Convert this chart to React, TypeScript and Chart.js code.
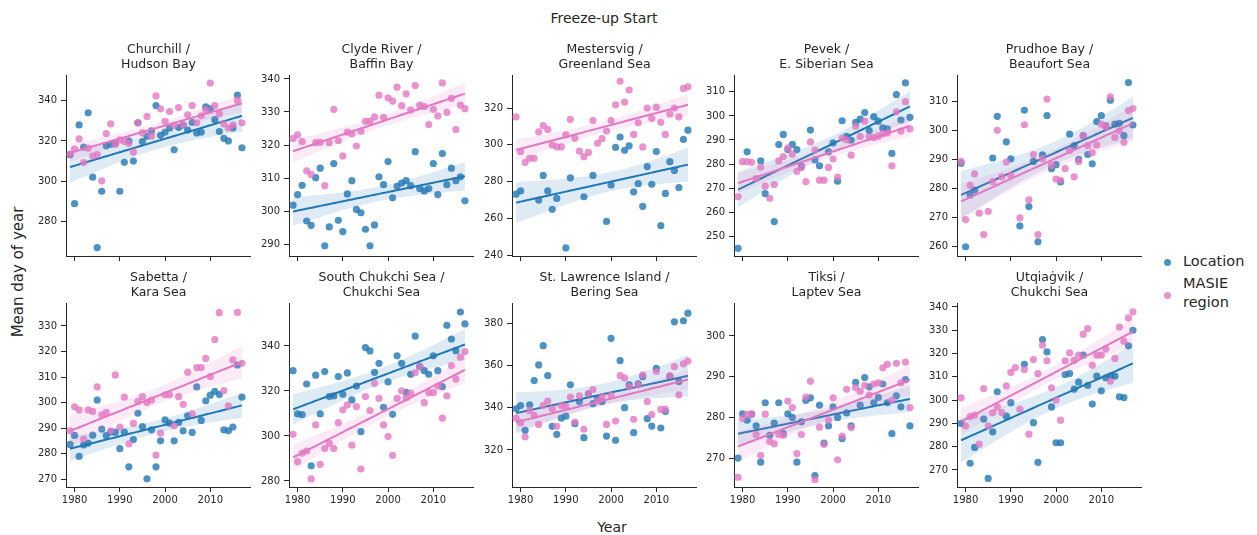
import React, { useEffect, useRef } from "react";
import { Chart, registerables } from "chart.js";

Chart.register(...registerables);

// ---------------- data ----------------
const YEARS = [
  1979, 1980, 1981, 1982, 1983, 1984, 1985, 1986, 1987, 1988,
  1989, 1990, 1991, 1992, 1993, 1994, 1995, 1996, 1997, 1998,
  1999, 2000, 2001, 2002, 2003, 2004, 2005, 2006, 2007, 2008,
  2009, 2010, 2011, 2012, 2013, 2014, 2015, 2016, 2017,
];
const X_TICKS = [1980, 1990, 2000, 2010];

const SUPTITLE = "Freeze-up Start";
const X_LABEL = "Year";
const Y_LABEL = "Mean day of year";
const SERIES_NAMES = ["Location", ["MASIE", "region"]];

const PANEL_TITLES = [
  ["Churchill /", "Hudson Bay"],
  ["Clyde River /", "Baffin Bay"],
  ["Mestersvig /", "Greenland Sea"],
  ["Pevek /", "E. Siberian Sea"],
  ["Prudhoe Bay /", "Beaufort Sea"],
  ["Sabetta /", "Kara Sea"],
  ["South Chukchi Sea /", "Chukchi Sea"],
  ["St. Lawrence Island /", "Bering Sea"],
  ["Tiksi /", "Laptev Sea"],
  ["Utqiaġvik /", "Chukchi Sea"],
];

const CHURCHILL_LOCATION = [313.2, 288.8, 328, 317, 334, 302, 267, 295, 317.6, 318.4, 319, 295, 309.4, 320, 310, 329, 319.7, 322.4, 325, 337.6, 322.8, 324.4, 326.5, 315.6, 326.8, 328, 325.4, 329.3, 324, 324.4, 337, 336, 330.6, 324.7, 321.3, 320, 326.5, 342.8, 316.6];
const CHURCHILL_MASIE = [313.5, 316, 321, 309.3, 316.4, 312.5, 313.2, 300.2, 323.7, 328.5, 318.4, 320.6, 319.7, 318.7, 314.5, 329, 324, 332.2, 322.4, 342.4, 336, 329.8, 334.6, 327.8, 336.6, 328, 333, 337.6, 329, 332.5, 335.5, 348.8, 337.6, 333.5, 328.5, 326.5, 328, 340.3, 329];

const CLYDE_LOCATION = [301.8, 305, 307.8, 297, 295.7, 310.1, 313, 289.5, 295.2, 314.4, 297.2, 293.8, 305.2, 309.2, 300.5, 299.5, 294.5, 289.5, 295.8, 310.4, 308, 315, 304, 307.5, 308.5, 309.2, 307.7, 318, 306.8, 306.1, 306.8, 314.4, 305, 317.4, 308, 313, 309.2, 310.4, 303.1];
const CLYDE_MASIE = [322, 323.1, 321, 312.2, 311.1, 320.7, 320.8, 307.7, 320.7, 330.8, 321.3, 316.7, 323.9, 323.4, 319.7, 324.2, 327.2, 327.2, 328.5, 335.1, 328.4, 334.3, 333.3, 337.5, 331.9, 335.5, 330.6, 338, 332.1, 331.6, 326.2, 330.8, 328.8, 338.8, 329.9, 334.1, 324.7, 332.1, 331];

const MESTERSVIG_LOCATION = [273.2, 275, null, null, null, 270, 283.4, 275, 265, 270.9, null, 244, 282.1, null, null, 271.8, null, 283.4, null, null, 258.4, 278.2, 298.6, 304.3, 297.1, 299.5, 274.5, 278.9, 266.6, 288.2, 278.6, 296.4, 256.1, 273.6, 290.9, 286.1, 276.8, 303, 308];
const MESTERSVIG_MASIE = [315.2, 296.3, 290.5, 292.7, 292.7, 307.1, 310.5, 308.4, 300, 298.9, 298.9, 305.4, 313.9, 303.6, 296.6, 293.6, 295.9, 313.2, 300.9, 303.4, 307.5, 313.2, 321.8, 334.6, 323.2, 329.8, 305.7, 312, 298.9, 320, 314.3, 320.5, 312.3, 305.7, 316.8, 320, 315.2, 330.7, 331.6];

const PEVEK_LOCATION = [245, null, 285.1, null, null, 281.3, 267.7, null, 256.1, 288.1, 292.3, 286, 288.2, 286, 279, null, 294.1, 281.7, 279.3, null, 285.1, 288.8, 272.9, 298, 291.5, 289.9, 297.3, 298.7, 301.4, 293.9, 299.7, 297.8, 295, 294.6, 284.4, 308.9, 298.3, 313.7, 299.4];
const PEVEK_MASIE = [266.4, 281, 281, 280.7, 274, 278.7, 270.8, 265.8, 271.5, 281.3, 283.1, 286.7, 284.1, 277, 278.6, 272.7, 289.2, 285.8, 273.3, 273.3, 278.6, 282.1, 274.6, 290.8, 290.1, 283.7, 295.7, 291.5, 297.8, 291.2, 291, 291.6, 292.6, 292.9, 279.3, 301.7, 293.7, 305.9, 294.6];

const PRUDHOE_LOCATION = [288.7, 259.8, 277.7, 279.4, null, null, null, 290.5, 304.9, null, 296.1, 290.2, null, 267, 307, 273.7, 289.3, 261.5, 291.6, 305.2, 286.8, 288.2, 282.2, null, 298.8, 294.8, 290, 298.2, 291.7, 288.5, 303.1, 305.2, 301.6, 310.5, 302.2, 302.5, 298.2, 316.6, 301.9];
const PRUDHOE_MASIE = [289.3, 269.2, 281, 285, 271.4, 264, 272, 282.3, 300.1, 284, 289.1, 284.5, null, 269.8, 302, 276, 291.7, 264, 290.2, 310.9, 288, 283.2, 282.8, 286.8, 293.1, 284, 289.3, 298.2, 294.8, 292.3, 295, 302.2, 301.3, 311.6, 297.6, 299.9, 295.9, 306.9, 307.6];

const SABETTA_LOCATION = [283.6, 287.1, 278.9, 283.4, 284.1, 287.2, 301, 289.6, 287, 288.5, 288.4, 281.9, 288.4, 274.8, 285.5, 295.8, 290.6, 270.1, 289.3, 274.8, 285, 293.2, 291.9, 285, 292.2, 288.9, 294.8, 288.3, 306.1, 293, 300.7, 302.9, 304.4, 303.1, 289.3, 288.9, 290.4, 314.7, 302.1];
const SABETTA_MASIE = [288.9, 298.3, 297.1, 285.7, 297.1, 296.5, 306.1, 295.2, 296.2, 288.9, 310.8, 290.4, 302.1, 283.8, 291.8, 300.4, 302.3, 300, 301, 279.4, 288, 303, 303, 290.9, 302.3, 299.3, 311.9, 295.6, 313.7, 313.7, 317.3, 310.2, 324.7, 335.2, 304.7, 298.7, 316.7, 335.3, 315.4];

const SOUTH_CHUKCHI_LOCATION = [329, 309.8, 309.5, 323.1, 286.7, 327, 309.8, 328.6, 317.5, 317.8, 326.4, 318.5, 328, 316, 322.2, 301.9, 339.3, 337.8, 328.3, 332.3, 312.7, 324, 309.6, 335.6, 332.3, 319.4, 327.4, 344.4, 330.8, 329, 327.4, 335.6, 329, 321.9, 349.2, 343.1, 337.9, 355.1, 349.8];
const SOUTH_CHUKCHI_MASIE = [300.7, 288.6, 292.4, 293.3, 280.9, 304.9, 287.4, 294.4, 296.7, 294.4, 305.9, 311.6, 313.8, 295.9, 313, 285.3, 317.5, 311.3, 323.4, 316.7, 304.9, 299.7, 291.4, 316.7, 320.1, 317, 319, 328.1, 330.8, 314.8, 319.3, 319.3, 322.2, 307.9, 317.8, 331.3, 325.3, 335, 337.5];

const ST_LAWRENCE_LOCATION = [339.5, 341, 329.3, 341.4, 352.8, 360.2, 369.3, 355.2, 331.2, 327.4, 335.1, 336, 350.8, 332.4, 342.9, 325.8, 346.6, 341.9, 344.2, 342.9, 326.6, 372.8, 324.6, 362.3, 340, 350.8, 328.2, 351.3, 354.7, 334.8, 331.3, 358.6, 330.4, 338.2, 354.7, 380.6, 352.4, 381.1, 384.7];
const ST_LAWRENCE_MASIE = [335.1, 332.9, 326.2, 338.7, 336.4, 332.1, 341.1, 343.1, 339.5, 331.2, 341.1, 340.6, 345, 333.2, 345.6, 329.8, 346.6, 348.6, 343.1, 345.3, 332.1, 345.8, 333.7, 355.2, 354.1, 350, 334.5, 350.8, 355.5, 342.9, 336.7, 357.1, 339.2, 339.3, 355.2, 359.4, 346.1, 360.7, 362];

const TIKSI_LOCATION = [270, 280.9, 279.3, 280.8, 277.9, 269, 283.6, 275.6, 278.6, 283.6, 276, 280.9, 280, 269, 278.9, 284.2, 284.8, 265.7, 283, 273.7, 277.9, 282.6, 280, 274.8, 281.1, 277.9, 288.6, 283, 289.8, 287.5, 283.6, 284.9, 288.2, 283.6, 276, 285.3, 282.6, 289.3, 277.9];
const TIKSI_MASIE = [265.3, 279.7, 280.8, 280.8, 275.8, 270.7, 280.8, 274.1, 273.5, 275.8, 275.6, 284, 282.4, 271.1, 275.8, 285, 288.9, 264.7, 277.6, 273.4, 279.3, 284.8, 269.6, 275.4, 286.9, 277.5, 287.3, 286.4, 287.9, 285.5, 288.2, 288.5, 292.2, 293, 284.2, 293.3, 288.5, 293.6, 282.4];

const UTQIAGVIK_LOCATION = [290, null, 272.9, 279.7, null, 291.9, 266.4, 286.4, 303.6, null, 293.1, 298.9, null, null, 315.4, null, 290.3, 273.3, 326, 320.7, 297.1, 281.7, 281.7, 311, 311.4, 304.7, 307.7, 319.3, 306.3, 298.3, 310.3, 304, 309.6, 310.3, 310.3, 301.4, 301.1, 323.3, 330];
const UTQIAGVIK_MASIE = [301, 288.9, 292.9, 293.6, 281.1, 305, 289, 294.6, 297.1, 294.6, 306.1, 311.9, 314, 296.1, 313.1, 285.4, 317.4, 311.4, 323.6, 316.9, 305.3, 300, 291.4, 316.9, 320.3, 317.1, 319.3, 328.3, 330.7, 315, 319.3, 319.3, 321.9, 308.1, 317.9, 331.4, 325.3, 335.3, 337.9];

const LOCATION_SERIES = [
  CHURCHILL_LOCATION, CLYDE_LOCATION, MESTERSVIG_LOCATION, PEVEK_LOCATION, PRUDHOE_LOCATION,
  SABETTA_LOCATION, SOUTH_CHUKCHI_LOCATION, ST_LAWRENCE_LOCATION, TIKSI_LOCATION, UTQIAGVIK_LOCATION,
];
const MASIE_SERIES = [
  CHURCHILL_MASIE, CLYDE_MASIE, MESTERSVIG_MASIE, PEVEK_MASIE, PRUDHOE_MASIE,
  SABETTA_MASIE, SOUTH_CHUKCHI_MASIE, ST_LAWRENCE_MASIE, TIKSI_MASIE, UTQIAGVIK_MASIE,
];

// y-axis limits and tick labels per panel
const Y_MIN = [262.8, 286.4, 239.6, 241.8, 256.6, 266.9, 277.3, 302.5, 262.9, 262.7];
const Y_MAX = [352.8, 341.2, 338.0, 317.0, 319.2, 339.0, 359.1, 389.5, 308.1, 341.7];
const Y_TICKS = [
  [280, 300, 320, 340],
  [290, 300, 310, 320, 330, 340],
  [240, 260, 280, 300, 320],
  [250, 260, 270, 280, 290, 300, 310],
  [260, 270, 280, 290, 300, 310],
  [270, 280, 290, 300, 310, 320, 330],
  [280, 300, 320, 340],
  [320, 340, 360, 380],
  [270, 280, 290, 300],
  [270, 280, 290, 300, 310, 320, 330, 340],
];
const X_MIN = 1978.1;
const X_MAX = 2019.0;

// ---------------- styles / layout ----------------
const FONT = "'DejaVu Sans', sans-serif";
const INK = "#262626";
const BLUE = "#1f77b4";
const PINK = "#e377c2";
const BLUE_PT = "rgba(31,119,180,0.8)";
const PINK_PT = "rgba(227,119,194,0.8)";
const BLUE_BAND = "rgba(31,119,180,0.15)";
const PINK_BAND = "rgba(227,119,194,0.15)";

const AX_LEFT0 = 66;
const AX_PITCH = 222.75;
const AX_W = 185;
const AX_TOP = [75, 303];
const AX_H = [183, 184];
const Y_AXIS_W = 45;
const X_AXIS_H = [8, 24];
const TITLE_H = 33;

function regression(values: (number | null)[]) {
  const xs: number[] = [];
  const ys: number[] = [];
  YEARS.forEach((yr, i) => {
    const v = values[i];
    if (v !== null && v !== undefined) {
      xs.push(yr);
      ys.push(v);
    }
  });
  const n = xs.length;
  const mx = xs.reduce((a, b) => a + b, 0) / n;
  const my = ys.reduce((a, b) => a + b, 0) / n;
  let sxx = 0;
  let sxy = 0;
  for (let i = 0; i < n; i++) {
    sxx += (xs[i] - mx) * (xs[i] - mx);
    sxy += (xs[i] - mx) * (ys[i] - my);
  }
  const b = sxy / sxx;
  const a = my - b * mx;
  let sse = 0;
  for (let i = 0; i < n; i++) {
    const r = ys[i] - (a + b * xs[i]);
    sse += r * r;
  }
  const s2 = sse / (n - 2);
  const t = 1.96 + 2.4 / (n - 2);
  const x0 = Math.min(...xs);
  const x1 = Math.max(...xs);
  const fit: { x: number; y: number }[] = [];
  const up: { x: number; y: number }[] = [];
  const lo: { x: number; y: number }[] = [];
  const steps = 60;
  for (let k = 0; k <= steps; k++) {
    const x = x0 + ((x1 - x0) * k) / steps;
    const yh = a + b * x;
    const se = Math.sqrt(s2 * (1 / n + ((x - mx) * (x - mx)) / sxx));
    fit.push({ x, y: yh });
    up.push({ x, y: yh + t * se });
    lo.push({ x, y: yh - t * se });
  }
  return { fit, up, lo };
}

function points(values: (number | null)[]) {
  const out: { x: number; y: number }[] = [];
  YEARS.forEach((yr, i) => {
    const v = values[i];
    if (v !== null && v !== undefined) out.push({ x: yr, y: v });
  });
  return out;
}

function Panel({ idx }: { idx: number }) {
  const ref = useRef<HTMLCanvasElement | null>(null);
  const col = idx % 5;
  const row = Math.floor(idx / 5);
  const left = Math.round(AX_LEFT0 + AX_PITCH * col) - Y_AXIS_W;
  const top = AX_TOP[row] - TITLE_H;
  const width = Y_AXIS_W + AX_W;
  const height = TITLE_H + AX_H[row] + X_AXIS_H[row];

  useEffect(() => {
    if (!ref.current) return;
    const loc = LOCATION_SERIES[idx];
    const mas = MASIE_SERIES[idx];
    const rl = regression(loc);
    const rm = regression(mas);
    const lineBase = {
      type: "line" as const,
      showLine: true,
      pointRadius: 0,
      pointHoverRadius: 0,
      tension: 0,
    };
    const chart = new Chart(ref.current, {
      type: "scatter",
      data: {
        datasets: [
          { type: "scatter", data: points(loc), backgroundColor: BLUE_PT, borderWidth: 0, pointRadius: 3.6, order: 6 },
          { ...lineBase, data: rl.up, borderWidth: 0, borderColor: "rgba(0,0,0,0)", fill: false, order: 5 },
          { ...lineBase, data: rl.lo, borderWidth: 0, borderColor: "rgba(0,0,0,0)", fill: "-1", backgroundColor: BLUE_BAND, order: 5 },
          { ...lineBase, data: rl.fit, borderWidth: 2, borderColor: BLUE, fill: false, order: 4 },
          { type: "scatter", data: points(mas), backgroundColor: PINK_PT, borderWidth: 0, pointRadius: 3.6, order: 3 },
          { ...lineBase, data: rm.up, borderWidth: 0, borderColor: "rgba(0,0,0,0)", fill: false, order: 2 },
          { ...lineBase, data: rm.lo, borderWidth: 0, borderColor: "rgba(0,0,0,0)", fill: "-1", backgroundColor: PINK_BAND, order: 2 },
          { ...lineBase, data: rm.fit, borderWidth: 2, borderColor: PINK, fill: false, order: 1 },
        ] as any,
      },
      options: {
        animation: false,
        responsive: false,
        maintainAspectRatio: false,
        events: [],
        layout: { padding: 0, autoPadding: false } as any,
        plugins: {
          legend: { display: false },
          tooltip: { enabled: false },
          title: {
            display: true,
            text: PANEL_TITLES[idx],
            fullSize: false,
            color: INK,
            font: { family: FONT, size: 12.5, lineHeight: "15px", weight: "normal" } as any,
            padding: { top: 0, bottom: 3 },
          },
        },
        scales: {
          x: {
            type: "linear",
            min: X_MIN,
            max: X_MAX,
            afterBuildTicks: (s: any) => {
              s.ticks = X_TICKS.map((v) => ({ value: v }));
            },
            afterFit: (s: any) => {
              s.height = X_AXIS_H[row];
            },
            ticks: {
              display: row === 1,
              color: INK,
              font: { family: FONT, size: 10 },
              padding: 2,
              maxRotation: 0,
              autoSkip: false,
              callback: (v: any) => String(v),
            },
            grid: {
              display: true,
              drawOnChartArea: false,
              drawTicks: true,
              tickLength: 5,
              tickColor: INK,
              tickWidth: 1,
            },
            border: { display: true, color: INK, width: 1 },
          },
          y: {
            type: "linear",
            min: Y_MIN[idx],
            max: Y_MAX[idx],
            afterBuildTicks: (s: any) => {
              s.ticks = Y_TICKS[idx].map((v) => ({ value: v }));
            },
            afterFit: (s: any) => {
              s.width = Y_AXIS_W;
            },
            ticks: {
              color: INK,
              font: { family: FONT, size: 10 },
              padding: 4,
              autoSkip: false,
              callback: (v: any) => String(v),
            },
            grid: {
              display: true,
              drawOnChartArea: false,
              drawTicks: true,
              tickLength: 5,
              tickColor: INK,
              tickWidth: 1,
            },
            border: { display: true, color: INK, width: 1 },
          },
        },
      } as any,
    });
    return () => chart.destroy();
  }, [idx]);

  return (
    <canvas
      ref={ref}
      width={width}
      height={height}
      style={{ position: "absolute", left, top, width, height }}
    />
  );
}

export default function App() {
  const textBase: React.CSSProperties = {
    position: "absolute",
    fontFamily: FONT,
    color: INK,
    whiteSpace: "nowrap",
    lineHeight: 1,
  };
  return (
    <div
      style={{
        position: "absolute",
        left: 0,
        top: 0,
        width: 1257,
        height: 535,
        background: "#ffffff",
        overflow: "hidden",
      }}
    >
      <div style={{ ...textBase, left: 604, top: 18, fontSize: 14, transform: "translate(-50%, -50%)" }}>
        {SUPTITLE}
      </div>
      <div style={{ ...textBase, left: 612, top: 527, fontSize: 14, transform: "translate(-50%, -50%)" }}>
        {X_LABEL}
      </div>
      <div
        style={{
          ...textBase,
          left: 18,
          top: 272,
          fontSize: 15,
          transform: "translate(-50%, -50%) rotate(-90deg)",
        }}
      >
        {Y_LABEL}
      </div>
      {/* legend */}
      <div style={{ position: "absolute", left: 1163.5, top: 258.5, width: 7, height: 7, borderRadius: "50%", background: BLUE_PT }} />
      <div style={{ ...textBase, left: 1183, top: 261, fontSize: 14.5, transform: "translateY(-50%)" }}>
        {SERIES_NAMES[0] as string}
      </div>
      <div style={{ position: "absolute", left: 1163.5, top: 291.5, width: 7, height: 7, borderRadius: "50%", background: PINK_PT }} />
      <div style={{ ...textBase, left: 1183, top: 283, fontSize: 14.5, transform: "translateY(-50%)" }}>
        {(SERIES_NAMES[1] as string[])[0]}
      </div>
      <div style={{ ...textBase, left: 1183, top: 302, fontSize: 14.5, transform: "translateY(-50%)" }}>
        {(SERIES_NAMES[1] as string[])[1]}
      </div>
      {PANEL_TITLES.map((_, i) => (
        <Panel key={i} idx={i} />
      ))}
    </div>
  );
}
